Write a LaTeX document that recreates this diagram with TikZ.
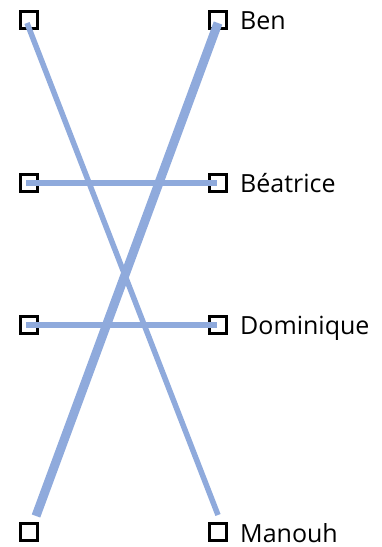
\documentclass[tikz,border=0pt]{standalone}
\usepackage{fontspec}
\setmainfont{Open Sans}
\definecolor{link}{HTML}{8FAADC}
\newcommand{\Lx}{29}
\newcommand{\Rx}{218}
\newcommand{\Tx}{240}

\begin{document}
\begin{tikzpicture}[x=1pt, y=1pt,
    box/.style={draw, line width=2.6pt, minimum size=17.4pt, inner sep=0pt},
    who/.style={anchor=base west, inner sep=0pt, font=\fontsize{25}{30}\selectfont},
    tie/.style={link, line width=5.5pt},
    bond/.style={link, line width=9pt},
  ]
\useasboundingbox (0,0) rectangle (382,547);

% --- Boxes: a bare one on the left, a named one on the right ----------------------------
\foreach \i/\y/\who in {1/527/Ben, 2/364/Béatrice, 3/222/Dominique, 4/15/Manouh} {
  \node[box] (l\i) at (\Lx,\y) {};
  \node[box] (r\i) at (\Rx,\y) {};
  \node[who] (n\i) at (\Tx,\y-10) {\who};
}

% --- Links (drawn over the boxes) ----------------------------------------------------------
\draw[tie] ([shift={(-2,-3)}]l1.center) -- ([yshift=7pt]r4.north);
\draw[bond] ([shift={(7,6)}]l4.north) -- ([yshift=-3pt]r1.center);
\draw[tie] ([xshift=-3pt]l2.center) -- ([xshift=-1pt]r2.center);
\draw[tie] ([xshift=-3pt]l3.center) -- ([xshift=-1pt]r3.center);
\end{tikzpicture}
\end{document}
